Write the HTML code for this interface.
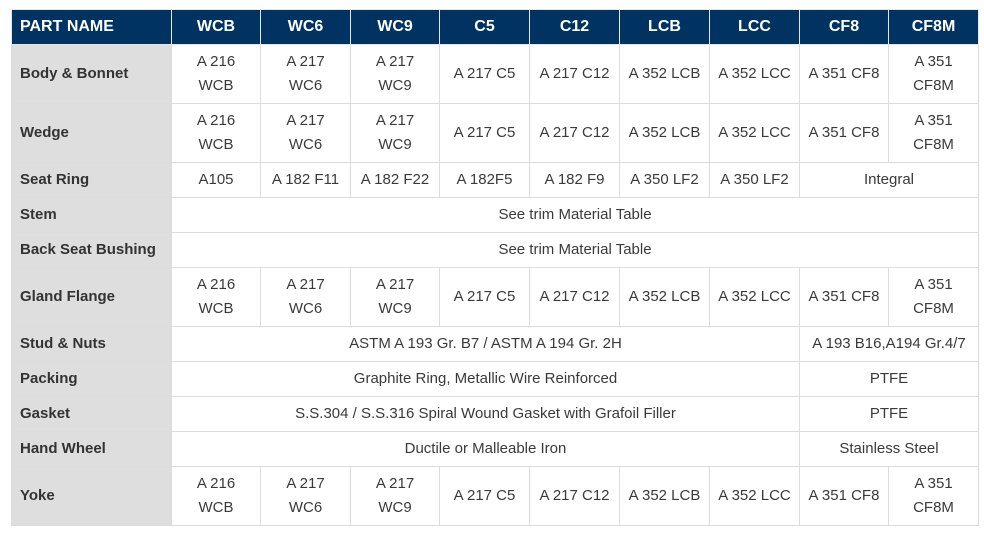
<!DOCTYPE html><html><head><style>
body{margin:0;background:#fff;}
table{position:absolute;left:11px;top:9px;border-collapse:collapse;table-layout:fixed;width:967px;font-family:"Liberation Sans",Arial,sans-serif;font-size:15px;color:#3a3a3a;}
td,th{border:1px solid #dcdcdc;text-align:center;padding:0 2px;line-height:24px;}
th{background:#003262;color:#fff;font-weight:bold;height:34px;border-color:#e6e6e6;font-size:16px;}
th:first-child{text-align:left;padding-left:8px;}
td:first-child{background:#dedede;text-align:left;padding-left:8px;font-weight:bold;color:#333;}
tr.t td{height:58px;}
tr.s td{height:34px;}
</style></head><body>
<table>
<colgroup><col style="width:160px"><col style="width:89px"><col style="width:90px"><col style="width:89px"><col style="width:90px"><col style="width:90px"><col style="width:90px"><col style="width:90px"><col style="width:89px"><col style="width:90px"></colgroup>
<tr><th>PART NAME</th><th>WCB</th><th>WC6</th><th>WC9</th><th>C5</th><th>C12</th><th>LCB</th><th>LCC</th><th>CF8</th><th>CF8M</th></tr>
<tr class="t"><td>Body &amp; Bonnet</td><td>A 216<br>WCB</td><td>A 217<br>WC6</td><td>A 217<br>WC9</td><td>A 217 C5</td><td>A 217 C12</td><td>A 352 LCB</td><td>A 352 LCC</td><td>A 351 CF8</td><td>A 351<br>CF8M</td></tr>
<tr class="t"><td>Wedge</td><td>A 216<br>WCB</td><td>A 217<br>WC6</td><td>A 217<br>WC9</td><td>A 217 C5</td><td>A 217 C12</td><td>A 352 LCB</td><td>A 352 LCC</td><td>A 351 CF8</td><td>A 351<br>CF8M</td></tr>
<tr class="s"><td>Seat Ring</td><td>A105</td><td>A 182 F11</td><td>A 182 F22</td><td>A 182F5</td><td>A 182 F9</td><td>A 350 LF2</td><td>A 350 LF2</td><td colspan="2">Integral</td></tr>
<tr class="s"><td>Stem</td><td colspan="9">See trim Material Table</td></tr>
<tr class="s"><td>Back Seat Bushing</td><td colspan="9">See trim Material Table</td></tr>
<tr class="t"><td>Gland Flange</td><td>A 216<br>WCB</td><td>A 217<br>WC6</td><td>A 217<br>WC9</td><td>A 217 C5</td><td>A 217 C12</td><td>A 352 LCB</td><td>A 352 LCC</td><td>A 351 CF8</td><td>A 351<br>CF8M</td></tr>
<tr class="s"><td>Stud &amp; Nuts</td><td colspan="7">ASTM A 193 Gr. B7 / ASTM A 194 Gr. 2H</td><td colspan="2">A 193 B16,A194 Gr.4/7</td></tr>
<tr class="s"><td>Packing</td><td colspan="7">Graphite Ring, Metallic Wire Reinforced</td><td colspan="2">PTFE</td></tr>
<tr class="s"><td>Gasket</td><td colspan="7">S.S.304 / S.S.316 Spiral Wound Gasket with Grafoil Filler</td><td colspan="2">PTFE</td></tr>
<tr class="s"><td>Hand Wheel</td><td colspan="7">Ductile or Malleable Iron</td><td colspan="2">Stainless Steel</td></tr>
<tr class="t"><td>Yoke</td><td>A 216<br>WCB</td><td>A 217<br>WC6</td><td>A 217<br>WC9</td><td>A 217 C5</td><td>A 217 C12</td><td>A 352 LCB</td><td>A 352 LCC</td><td>A 351 CF8</td><td>A 351<br>CF8M</td></tr>
</table>
</body></html>
